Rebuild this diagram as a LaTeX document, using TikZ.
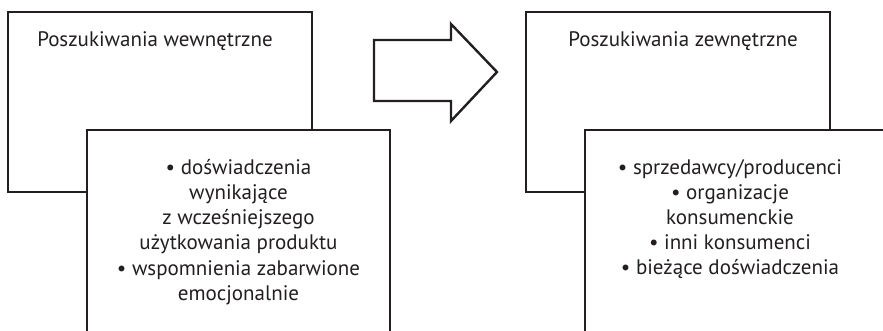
\documentclass[tikz,border=0pt]{standalone}
\usepackage{fontspec}
\setmainfont{PT Sans}
\definecolor{ink}{HTML}{231F20}
\begin{document}
\begin{tikzpicture}[x=1pt,y=-1pt,
  box/.style={draw=ink,line width=2.4pt,fill=white,rectangle,inner sep=0pt},
  txt/.style={text=ink,font=\fontsize{21}{25.2}\selectfont,inner sep=0pt,align=center},
  bigarrow/.style={draw=ink,line width=2.4pt,fill=white,line join=miter}]
\useasboundingbox (0,0) rectangle (883,331);
\clip (0,0) rectangle (883,331);
% left group
\node[box,minimum width=304pt,minimum height=180pt] (backL) at (160,102) {};
\node[txt,anchor=base] (titleL) at (155,47) {Poszukiwania wewnętrzne};
\node[box,minimum width=303pt,minimum height=260pt] (frontL) at (238.5,260) {};
\node[txt,anchor=north] (bodyL) at (238.5,159) {• doświadczenia\\wynikające\\z wcześniejszego\\użytkowania produktu\\• wspomnienia zabarwione\\emocjonalnie};
% right group
\node[box,minimum width=304pt,minimum height=180pt] (backR) at (678,102) {};
\node[txt,anchor=base] (titleR) at (683,47) {Poszukiwania zewnętrzne};
\node[box,minimum width=303pt,minimum height=260pt] (frontR) at (736.5,260) {};
\node[txt,anchor=north] (bodyR) at (730,159) {• sprzedawcy/producenci\\• organizacje\\konsumenckie\\• inni konsumenci\\• bieżące doświadczenia};
% arrow
\coordinate (a1) at (374,40);
\coordinate (a2) at (451,40);
\coordinate (a3) at (451,24);
\coordinate (tip) at (497,72);
\coordinate (a5) at (451,121);
\coordinate (a6) at (451,101);
\coordinate (a7) at (374,101);
\draw[bigarrow] (a1) -- (a2) -- (a3) -- (tip) -- (a5) -- (a6) -- (a7) -- cycle;
\end{tikzpicture}
\end{document}
